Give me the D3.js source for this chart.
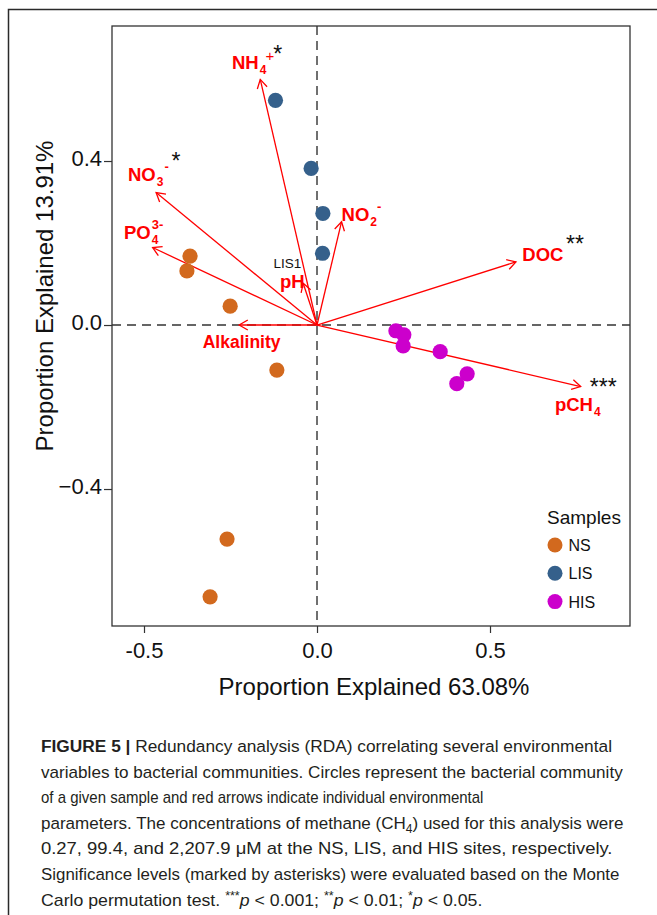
<!DOCTYPE html>
<html><head><meta charset="utf-8">
<script src="https://cdn.jsdelivr.net/npm/d3@7"></script>
<style>
html,body{margin:0;padding:0;background:#fff;}
svg{display:block;}
</style></head>
<body>
<script>
// ---------- data ----------
const nsX  = [-0.367, -0.376, -0.251, -0.116, -0.260, -0.309];
const nsY  = [ 0.168,  0.132,  0.046, -0.110, -0.522, -0.663];
const lisX = [-0.120, -0.017, 0.017, 0.016];
const lisY = [ 0.548,  0.382, 0.272, 0.175];
const hisX = [0.228, 0.251, 0.249, 0.356, 0.434, 0.404];
const hisY = [-0.014, -0.024, -0.051, -0.065, -0.119, -0.143];

const envNames = ["NH4", "NO3", "PO4", "Alkalinity", "pH", "NO2", "DOC", "pCH4"];
const envX = [-0.164, -0.465, -0.475, -0.225, -0.040, 0.071, 0.575, 0.762];
const envY = [ 0.599,  0.323,  0.189,  0.000,  0.102, 0.252, 0.154, -0.150];
const envMain = ["NH", "NO", "PO", "Alkalinity", "pH", "NO", "DOC", "pCH"];
const envSub  = ["4", "3", "4", "", "", "2", "", "4"];
const envSup  = ["+", "-", "3-", "", "", "-", "", ""];
const envSig  = ["*", "*", "", "", "", "", "**", "***"];

const groupNames = ["NS", "LIS", "HIS"];
const groupColors = ["#d2691e", "#35608b", "#cc00cc"];

const xTicks = [-0.5, 0.0, 0.5];
const yTicks = [-0.4, 0.0, 0.4];
const xTitle = "Proportion Explained 63.08%";
const yTitle = "Proportion Explained 13.91%";
const legendTitle = "Samples";
const pointLabel = "LIS1";

// ---------- layout ----------
const W = 657, H = 915;
const P = {l: 112, r: 630, t: 26, b: 626};
const FONT = "'Liberation Sans', Arial, Helvetica, sans-serif";

const svg = d3.select("body").append("svg").attr("width", W).attr("height", H);

const x = d3.scaleLinear().domain([-0.5925, 0.9046]).range([P.l, P.r]);
const y = d3.scaleLinear().domain([-0.7341, 0.7293]).range([P.b, P.t]);

// outer figure frame
svg.append("path").attr("d", `M${W},9.5H8.5V${H}`).attr("fill", "none")
  .attr("stroke", "#2a2a2a").attr("stroke-width", 1.5);

// zero lines
svg.append("line").attr("x1", P.l).attr("x2", P.r).attr("y1", y(0)).attr("y2", y(0))
  .attr("stroke", "#333").attr("stroke-width", 1.4).attr("stroke-dasharray", "9,6");
svg.append("line").attr("y1", P.t).attr("y2", P.b).attr("x1", x(0)).attr("x2", x(0))
  .attr("stroke", "#333").attr("stroke-width", 1.4).attr("stroke-dasharray", "9,6");

// axes
const xAxis = d3.axisBottom(x).tickValues(xTicks).tickSize(7).tickPadding(9)
  .tickFormat(d => d3.format(".1f")(d).replace("−", "-"));
const gx = svg.append("g").attr("transform", `translate(0,${P.b})`).call(xAxis);
gx.select(".domain").remove();
gx.selectAll("text").attr("font-family", FONT).attr("font-size", 22).attr("fill", "#111");
gx.selectAll("line").attr("stroke", "#333").attr("stroke-width", 1.2);

const yAxis = d3.axisLeft(y).tickValues(yTicks).tickSize(8).tickPadding(2)
  .tickFormat(d => d3.format(".1f")(d));
const gy = svg.append("g").attr("transform", `translate(${P.l},0)`).call(yAxis);
gy.select(".domain").remove();
gy.selectAll("text").attr("font-family", FONT).attr("font-size", 22).attr("fill", "#111")
  .attr("dy", "0.22em");
gy.selectAll("line").attr("stroke", "#333").attr("stroke-width", 1.2);

// panel box
svg.append("rect").attr("x", P.l).attr("y", P.t).attr("width", P.r - P.l).attr("height", P.b - P.t)
  .attr("fill", "none").attr("stroke", "#333").attr("stroke-width", 1.3);

// axis titles
svg.append("text").attr("x", (P.l + P.r) / 2 + 3).attr("y", 695).attr("text-anchor", "middle")
  .attr("font-family", FONT).attr("font-size", 24).attr("fill", "#111").text(xTitle);
svg.append("text").attr("transform", "translate(53,296) rotate(-90)").attr("text-anchor", "middle")
  .attr("font-family", FONT).attr("font-size", 24).attr("fill", "#111").text(yTitle);

// arrows
const red = "#ff0000";
const env = envNames.map((n, i) => ({n, x: envX[i], y: envY[i], main: envMain[i], sub: envSub[i], sup: envSup[i], sig: envSig[i]}));
const ag = svg.append("g");
env.forEach(d => {
  const x0 = x(0), y0 = y(0), x1 = x(d.x), y1 = y(d.y);
  ag.append("line").attr("x1", x0).attr("y1", y0).attr("x2", x1).attr("y2", y1)
    .attr("stroke", red).attr("stroke-width", 1.3);
  const ang = Math.atan2(y1 - y0, x1 - x0), L = 10, a = Math.PI / 6;
  const p1 = [x1 - L * Math.cos(ang - a), y1 - L * Math.sin(ang - a)];
  const p2 = [x1 - L * Math.cos(ang + a), y1 - L * Math.sin(ang + a)];
  ag.append("path").attr("d", `M${p1}L${x1},${y1}L${p2}`).attr("fill", "none")
    .attr("stroke", red).attr("stroke-width", 1.3);
});

// points
const pts = [];
nsX.forEach((v, i) => pts.push({x: v, y: nsY[i], g: 0}));
lisX.forEach((v, i) => pts.push({x: v, y: lisY[i], g: 1}));
hisX.forEach((v, i) => pts.push({x: v, y: hisY[i], g: 2}));
svg.append("g").selectAll("circle").data(pts).join("circle")
  .attr("cx", d => x(d.x)).attr("cy", d => y(d.y)).attr("r", 7.6)
  .attr("fill", d => groupColors[d.g]);

// arrow labels (placement offsets relative to arrow tips, in pixels)
const labelOff = {
  NH4: [-28.3, -10], NO3: [-28.1, -11.6], PO4: [-28.7, -8.2], Alkalinity: [2.5, 22.7],
  pH: [-23.2, 4.5], NO2: [0, -1], DOC: [6.4, -1], pCH4: [-25.7, 24.5]
};
const supShift = {NH4: 2, NO3: 4, PO4: -1, NO2: 3};
const sigOff = {NH4: [17.4, -30.1], NO3: [19.9, -36.6], DOC: [59.1, -22.6], pCH4: [22.6, -4.8]};
const lg = svg.append("g").attr("font-family", FONT).attr("fill", red);
env.forEach(d => {
  const tipX = x(d.x), tipY = y(d.y);
  const tx = tipX + labelOff[d.n][0], ty = tipY + labelOff[d.n][1];
  const t = lg.append("text").attr("x", tx).attr("y", ty).attr("font-weight", "bold")
    .attr("font-size", d.n === "Alkalinity" ? 17.5 : 18.5)
    .attr("text-anchor", d.n === "Alkalinity" ? "middle" : "start").text(d.main);
  const w = t.node().getComputedTextLength();
  let subW = 0;
  if (d.sub) {
    const s = lg.append("text").attr("x", tx + w + 1).attr("y", ty + 5).attr("font-weight", "bold")
      .attr("font-size", 12).text(d.sub);
    subW = s.node().getComputedTextLength();
  }
  if (d.sup) {
    const plus = d.sup === "+";
    lg.append("text").attr("x", tx + w + 1 + (supShift[d.n] > 0 ? subW - 3 + supShift[d.n] : 0))
      .attr("y", ty - (plus ? 8 : 10)).attr("font-weight", plus ? "normal" : "bold")
      .attr("font-size", plus ? 15 : 13).text(d.sup);
  }
  if (d.sig) {
    const sp = sigOff[d.n];
    lg.append("text").attr("x", tipX + sp[0]).attr("y", tipY + sp[1] + 13).attr("text-anchor", "middle")
      .attr("font-size", 23).attr("fill", "#111").text(d.sig);
  }
});

// LIS1 point label
svg.append("text").attr("x", x(lisX[3]) - 49).attr("y", y(lisY[3]) + 15)
  .attr("font-family", FONT).attr("font-size", 13.5).attr("fill", "#111").text(pointLabel);

// legend
const lgd = svg.append("g").attr("font-family", FONT);
lgd.append("text").attr("x", 547).attr("y", 524).attr("font-size", 19).attr("fill", "#111").text(legendTitle);
groupNames.forEach((g, i) => {
  const cy = 545 + i * 28.3;
  lgd.append("circle").attr("cx", 555).attr("cy", cy).attr("r", 7.5).attr("fill", groupColors[i]);
  lgd.append("text").attr("x", 568.5).attr("y", cy + 6).attr("font-size", 16).attr("fill", "#111").text(g);
});

// caption
const CAP = "'Liberation Sans', Arial, sans-serif";
const capLines = [
  [{t: "FIGURE 5 |", b: 1}, {t: " Redundancy analysis (RDA) correlating several environmental"}],
  [{t: "variables to bacterial communities. Circles represent the bacterial community"}],
  [{t: "of a given sample and red arrows indicate individual environmental"}],
  [{t: "parameters. The concentrations of methane (CH"}, {t: "4", sub: 1}, {t: ") used for this analysis were"}],
  [{t: "0.27, 99.4, and 2,207.9 \u03bcM at the NS, LIS, and HIS sites, respectively."}],
  [{t: "Significance levels (marked by asterisks) were evaluated based on the Monte"}],
  [{t: "Carlo permutation test. "}, {t: "***", sup: 1}, {t: "p", i: 1}, {t: " < 0.001; "}, {t: "**", sup: 1}, {t: "p", i: 1}, {t: " < 0.01; "}, {t: "*", sup: 1}, {t: "p", i: 1}, {t: " < 0.05."}]
];
const capEnds = [612.5, 623, 484, 624, 613, 620, 482.5];
const capX = 41;
capLines.forEach((parts, li) => {
  const g = svg.append("g");
  const t = g.append("text").attr("x", 0).attr("y", 0).attr("font-family", CAP)
    .attr("font-size", 17).attr("fill", "#231f20");
  parts.forEach(p => {
    const s = t.append("tspan").text(p.t);
    if (p.b) s.attr("font-weight", "bold");
    if (p.i) s.attr("font-style", "italic");
    if (p.sub) s.attr("font-size", 12).attr("dy", 4);
    if (p.sup) s.attr("font-size", 12).attr("dy", -6);
    if (p.sub || p.sup) { s.attr("data-shift", p.sub ? 4 : -6); }
  });
  t.selectAll("tspan").each(function(_, k, nodes) {
    const prev = k > 0 ? nodes[k - 1].getAttribute("data-shift") : null;
    const cur = this.getAttribute("data-shift");
    if (prev && !cur) d3.select(this).attr("dy", -prev);
    if (prev && cur) d3.select(this).attr("dy", cur - prev);
  });
  const w = t.node().getComputedTextLength();
  const sx = (capEnds[li] - capX) / w;
  g.attr("transform", `translate(${capX},${752 + li * 25.6}) scale(${sx},1)`);
});
</script>
</body></html>
